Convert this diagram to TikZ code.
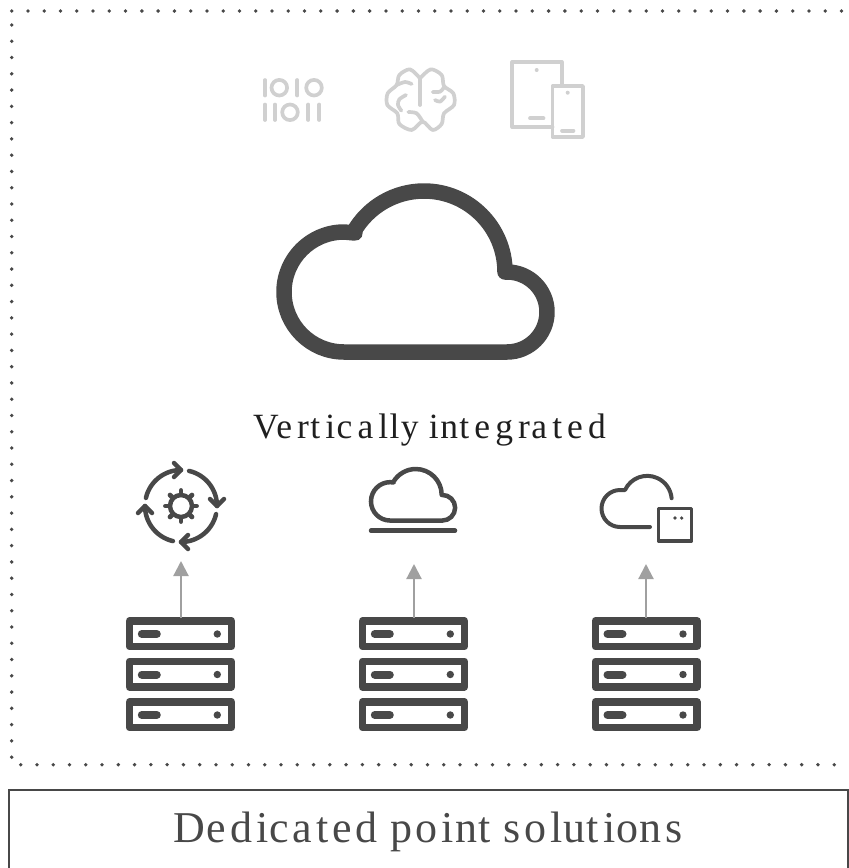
\documentclass[tikz,border=0pt]{standalone}
\usepackage{fontspec}
\setmainfont{Liberation Serif}
\usetikzlibrary{arrows.meta}
\definecolor{ink}{HTML}{484848}
\definecolor{faint}{HTML}{D0D0D0}
\definecolor{arrowgrey}{HTML}{A0A0A0}
\newcommand{\bigcloud}{(355,233) -- (344,232) arc (270:180:60) arc (180:90:60) -- (507,352) arc (90:-90:40) -- (505,272) arc (0:-150:81) -- cycle}
\newcommand{\gp}{\kern5.1pt\relax}
\newcommand{\gq}{\kern3.85pt\relax}
\tikzset{
  heavy/.style={draw=ink,line cap=round,line join=round},
  thin icon/.style={draw=faint,line width=3.7pt,line cap=round,line join=round},
  srv/.style={draw=ink,line width=7.5pt,line join=round},
  riser/.style={draw=arrowgrey,line width=2.2pt,-{Triangle[length=15pt,width=15pt]}},
  dotted border/.style={draw=ink,line width=3.8pt,line cap=round,dash pattern=on 0pt off 16.27pt},
}
\newcommand{\serverstack}[1]{%
  \begin{scope}[shift={(#1,0)}]
    \foreach \yy in {617,657.5,698}{
      \draw[srv] (3.75,\yy+3.75) rectangle (105.5,\yy+29.5);
      \draw[ink,line width=8pt,line cap=round] (16,\yy+17) -- (31,\yy+17);
      \fill[ink] (91.5,\yy+17) circle (3.7);
    }
  \end{scope}}
\begin{document}
\begin{tikzpicture}[x=1pt,y=1pt,yscale=-1]
\useasboundingbox (0,0) rectangle (849,868);
% dotted frame
\coordinate (fa) at (11.7,11);
\coordinate (fd) at (849,11);
\coordinate (fe) at (11.7,25);
\coordinate (fb) at (11.7,758);
\coordinate (ff) at (20.7,764.7);
\coordinate (fc) at (849,764.7);
\draw[dotted border] (fa) -- (fd);
\draw[dotted border] (fe) -- (fb);
\draw[dotted border] (ff) -- (fc);
% lower banner
\draw[ink,line width=1.7pt] (848.2,880) -- (848.2,790) -- (8.7,790) -- (8.7,880);
\node[anchor=base west,inner sep=0pt,text=ink,font=\fontsize{44}{48}\selectfont\addfontfeatures{LetterSpace=3}] (banner) at (173.5,842.7) {De\gq d\gq ic\gq a\gq t\gq e\gq d p\gq o\gq int s\gq o\gq lut\gq ion\gq s};
% central cloud
\draw[heavy,line width=15.5pt] \bigcloud;
\node[anchor=base west,inner sep=0pt,text=black!88,font=\fontsize{35.5}{40}\selectfont\addfontfeatures{LetterSpace=4}] (vert) at (253,438) {Ve\gp rt\gp ic\gp a\gp lly int\gp e\gp g\gp ra\gp t\gp e\gp d};
% grey icons: binary
\begin{scope}
  \foreach \xx in {265,297.3}{\draw[thin icon] (\xx,80) -- (\xx,95.5);}
  \draw[thin icon] (279.3,87.7) circle (7.8);
  \draw[thin icon] (314,87.7) circle (7.8);
  \foreach \xx in {265,275,308.3,319.3}{\draw[thin icon] (\xx,104.5) -- (\xx,120);}
  \draw[thin icon] (290,112.3) circle (7.8);
\end{scope}
% brain
\begin{scope}[shift={(240,50)},x=1/3*1pt,y=1/3*1pt]
  \draw[thin icon] (540,165) -- (540,85);
  \draw[thin icon] plot[smooth] coordinates {(540,85) (510,58) (478,75) (470,105) (443,130) (442,165) (472,190) (478,222) (515,240) (548,215) (578,240) (605,222) (612,190) (642,165) (640,130) (612,108) (605,75) (572,58) (540,85)};
  \draw[thin icon] plot[smooth] coordinates {(470,105) (495,96) (515,102)};
  \draw[thin icon] plot[smooth] coordinates {(612,112) (600,125) (578,126)};
  \draw[thin icon] plot[smooth] coordinates {(498,135) (478,148) (474,165) (484,182)};
  \draw[thin icon] plot[smooth] coordinates {(585,150) (600,155) (615,140)};
  \draw[thin icon] plot[smooth] coordinates {(505,186) (530,190) (548,215)};
\end{scope}
% devices
\draw[thin icon] (561.7,85) -- (561.7,62) -- (512.3,62) -- (512.3,127) -- (552.5,127);
\draw[thin icon] (552.5,86) rectangle (583,137);
\fill[faint] (536.7,70) circle (2) (567.7,92.7) circle (2);
\draw[thin icon] (530,118.3) -- (543.5,118.3);
\draw[thin icon] (562,130.7) -- (573.5,130.7);
% cycle icon
\begin{scope}[shift={(181,506)}]
  \foreach \rr in {0,90,180,270}{
    \begin{scope}[rotate=\rr]
      \draw[heavy,line width=4.5pt] (193:36) arc (193:270:36);
      \draw[heavy,line width=4.5pt] (-7,-43) -- (0,-36) -- (-7,-29);
    \end{scope}
  }
  \draw[heavy,line width=4.5pt] (0,0) circle (11);
  \foreach \rr in {0,45,...,315}{\draw[heavy,line width=4.8pt] (\rr:13) -- (\rr:15.5);}
\end{scope}
% cloud with line
\begin{scope}[shift={(280.1,407.9)},scale=.32]
  \draw[heavy,line width=4.5pt] \bigcloud;
\end{scope}
\draw[heavy,line width=4.5pt] (371,530.7) -- (455,530.7);
% open cloud with box
\draw[heavy,line width=4pt] (650,527) -- (620,527) arc (90:270:18.5) -- (625,490) arc (205:355:24.5);
\draw[heavy,line width=3.6pt] (658.5,508.5) rectangle (691.5,541);
\fill[ink] (675,518) circle (1.8) (681.7,518) circle (1.8);
% servers
\serverstack{125.8}
\serverstack{358.8}
\serverstack{591.5}
\coordinate (srva) at (181,618);
\coordinate (srvb) at (414,618);
\coordinate (srvc) at (646,618);
\coordinate (tipa) at (181,561);
\coordinate (tipb) at (414,564);
\coordinate (tipc) at (646,564);
\draw[riser] (srva) -- (tipa);
\draw[riser] (srvb) -- (tipb);
\draw[riser] (srvc) -- (tipc);
\end{tikzpicture}
\end{document}
